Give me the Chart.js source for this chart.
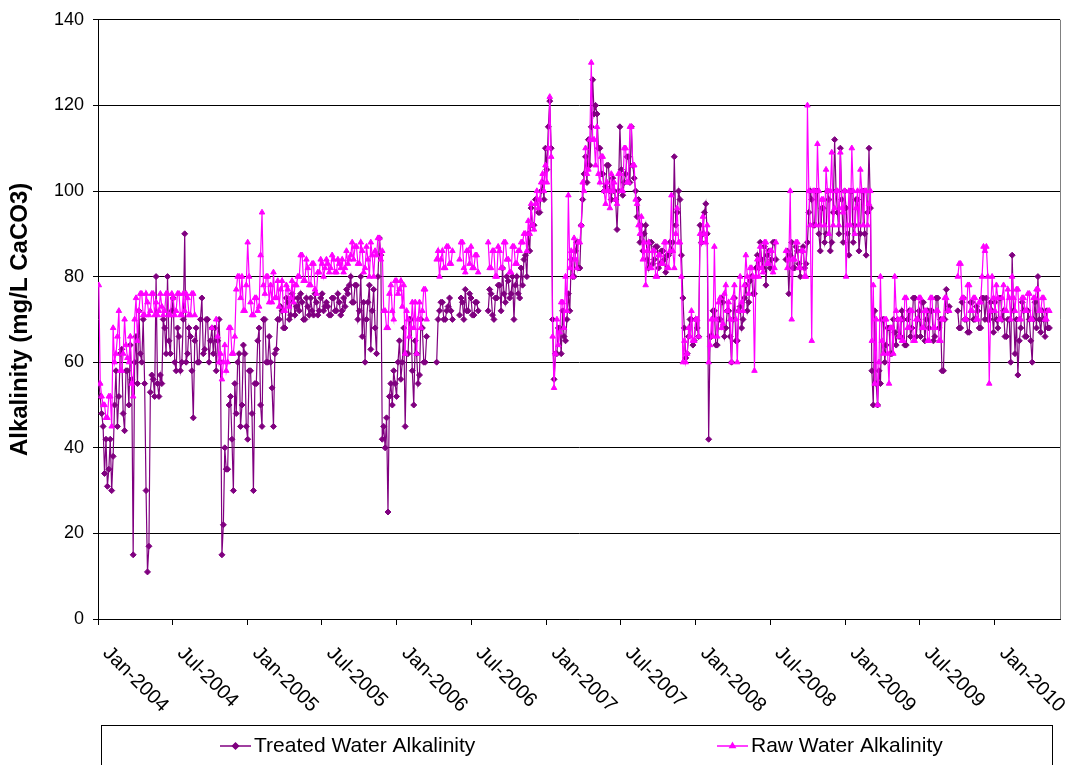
<!DOCTYPE html>
<html>
<head>
<meta charset="utf-8">
<title>Alkalinity</title>
<script src="https://cdn.jsdelivr.net/npm/chart.js@4"></script>
<style>
  html, body { margin: 0; padding: 0; background: #fff; }
  canvas { display: block; }
</style>
</head>
<body>
<canvas id="alkChart" width="1073" height="765"></canvas>
<script>
// twice-weekly samples, days counted from 1 Jan 2004
const firstDay = 2;
const stepDays = 3.5;

// Treated water alkalinity (mg/L CaCO3), null = no sample
const treatedAlk = [
  55, 52, 48, 45, 34, 42, 31, 35, 42, 30, 38, 50, 58, 45, 52, 62, 63, 48, 44, 58,
  58, 50, 64, 56, 15, 60, 66, 55, 72, 62, 60, 70, 55, 30, 11, 17, 53, 57, 56, 52,
  80, 55, 52, 57, 55, 70, 68, 62, 80, 65, 62, 72, 75, 60, 58, 68, 66, 58, 60, 70,
  90, 60, 62, 68, 66, 58, 47, 65, 68, 60, 60, 70, 75, 62, 63, 70, 70, 60, 65, 68,
  62, 68, 58, 65, 70, 60, 15, 22, 40, 35, 35, 50, 52, 42, 30, 55, 48, 60, 62, 45,
  50, 64, 62, 45, 42, 58, 58, 48, 30, 55, 55, 65, 68, 50, 45, 70, 70, 60, 60, 66,
  60, 54, 45, 62, 63, 70, 70, 73, 72, 68, 68, 75, 74, 70, 71, 76, 75, 71, 73, 75,
  72, 76, 74, 70, 70, 75, 73, 71, 75, 72, 71, 76, 74, 71, 72, 75, 76, 72, 73, 74,
  73, 71, 71, 75, 75, 72, 72, 76, 74, 71, 72, 75, 73, 77, 76, 78, 80, 74, 74, 78,
  78, 70, 72, 80, 66, 74, 60, 70, 74, 78, 63, 72, 77, 68, 62, 80, 89, 85, 42, 45,
  40, 47, 25, 52, 55, 50, 58, 55, 52, 60, 65, 56, 60, 68, 45, 62, 62, 70, 70, 58,
  50, 65, 62, 55, 57, 70, 68, 60, 60, 66, null, null, null, null, null, null, 60, 70, 72, 74,
  74, 70, 70, 72, 73, 75, 72, 70, null, null, null, null, 71, 75, 74, 70, 77, 72, 72, 76,
  75, 71, 71, 74, 74, 72, null, null, null, null, null, null, 72, 77, 76, 71, 70, 75, 75, 78,
  78, 72, 82, 76, 74, 80, 79, 75, 76, 80, 70, 78, 80, 76, 75, 82, 78, 84, 85, 80,
  90, 86, 96, 92, 92, 98, 98, 95, 95, 100, 102, 98, 110, 105, 115, 121, 110, 70, 56, 62,
  62, 68, 68, 62, 72, 66, 65, 70, 76, 72, 84, 80, 80, 86, 88, 82, 82, 92, 98, 104,
  108, 102, 112, 106, 115, 126, 118, 120, 118, 110, 110, 104, 104, 100, 101, 106, 106, 100, 98, 103,
  100, 98, 91, 100, 115, 105, 99, 102, 104, 108, 108, 102, 115, 106, 103, 100, 94, 98, 88, 92,
  86, 90, 92, 84, 82, 88, 88, 83, 84, 87, 87, 82, 83, 86, 86, 84, 81, 85, 85, 88,
  86, 88, 108, 92, 95, 100, 98, 85, 75, 68, 61, 62, 66, 70, 70, 64, 65, 70, 68, 66,
  92, 88, 90, 95, 97, 90, 42, 66, 66, 72, 72, 64, 64, 70, 70, 75, 74, 66, 68, 72,
  72, 66, 60, 70, 75, 65, 65, 72, 73, 68, 70, 75, 78, 72, 74, 79, 80, 76, 76, 82,
  85, 82, 88, 84, 82, 87, 78, 85, 86, 82, 84, 88, 88, 84, null, null, null, null, null, null,
  84, 86, 76, 85, 88, 82, 82, 87, 86, 83, 80, 86, 87, 82, 83, 88, 95, 100, 98, 92,
  92, 100, 100, 90, 86, 96, 96, 88, 90, 100, 98, 86, 88, 95, 112, 100, 95, 90, 110, 98,
  88, 100, 96, 90, 85, 100, 100, 88, 92, 98, 98, 86, 90, 100, 100, 90, 85, 95, 110, 96,
  58, 50, 72, 55, 50, 58, 55, 70, 70, 60, 64, 68, 68, 62, 62, 70, 67, 64, 70, 66,
  66, 72, 70, 64, 64, 70, 72, 66, 68, 75, 75, 66, 70, 72, 66, 74, 74, 65, 70, 72,
  68, 72, 72, 65, 66, 75, 75, 68, 70, 58, 58, 70, 77, 72, 73, null, null, null, null, null,
  72, 68, 68, 74, 75, 70, 70, 67, 67, 74, 74, 70, 70, 73, 72, 68, 68, 75, 75, 70,
  75, 70, 70, 74, 72, 67, 74, 70, 68, 75, 75, 70, 72, 66, 66, 70, 70, 60, 85, 72,
  62, 70, 57, 65, 68, 74, 72, 66, 66, 72, 70, 65, 60, 70, 74, 68, 80, 70, 67, 72,
  70, 66, 72, 68, 68
];

// Raw water alkalinity (mg/L CaCO3)
const rawAlk = [
  78, 55, 52, 50, 50, 47, 47, 52, 52, 45, 68, 60, 62, 66, 72, 58, 58, 62, 70, 64,
  61, 60, 66, 55, 52, 70, 75, 65, 72, 76, 76, 71, 71, 76, 74, 71, 72, 76, 76, 71,
  74, 71, 72, 76, 73, 71, 72, 76, 76, 71, 71, 76, 75, 71, 72, 76, 76, 71, 71, 76,
  72, 76, 75, 71, 71, 76, 76, 71, null, null, null, null, null, null, null, null, null, null, null, 68,
  null, null, 70, 66, 60, 62, 56, 60, 64, 58, 60, 68, 68, 62, 62, 66, 77, 80, 80, 75,
  80, 72, 72, 78, 88, 80, 74, 71, 71, 75, 75, 72, 73, 85, 95, 78, 76, 80, 80, 74,
  78, 74, 81, 75, 75, 79, 73, 77, 79, 72, 72, 78, 77, 73, 75, 79, 74, 78, 78, 80,
  80, 85, 85, 79, 79, 84, 82, 78, 78, 83, 83, 77, 76, 81, 81, 84, 83, 80, 82, 84,
  83, 81, 82, 85, 84, 81, 81, 84, 83, 82, 84, 81, 82, 86, 83, 84, 85, 88, 84, 87,
  87, 83, 83, 88, 86, 81, 82, 87, 84, 80, 88, 85, 80, 86, 85, 89, 89, 84, 86, 72,
  72, 68, 68, 76, 78, 72, 70, 79, 79, 76, 77, 79, 73, 78, 62, 72, 70, 66, 68, 74,
  68, 74, 62, 70, 74, 68, 72, 77, 77, 70, null, null, null, null, null, null, 84, 86, 80, 84,
  86, 82, 82, 87, 87, 83, 83, 86, null, null, null, null, 84, 88, 88, 82, 81, 86, 86, 83,
  87, 82, 82, 85, 85, 81, null, null, null, null, null, null, 88, 82, 82, 86, 86, 80, 80, 87,
  86, 82, 82, 88, 88, 84, 84, 81, 81, 87, 87, 83, 83, 86, 86, 88, 88, 90, 90, 86,
  93, 90, 97, 92, 91, 97, 100, 96, 98, 102, 104, 100, 106, 102, 110, 122, 108, 66, 54, 62,
  70, 64, 67, 74, 74, 68, 80, 72, 99, 82, 86, 80, 89, 84, 82, 88, 88, 92, 102, 100,
  110, 104, 105, 112, 130, 112, 112, 106, 115, 104, 102, 108, 108, 100, 97, 102, 100, 96, 104, 100,
  102, 98, 97, 104, 104, 100, 100, 110, 110, 102, 102, 115, 115, 106, 106, 98, 97, 92, 90, 94,
  84, 88, 78, 86, 88, 82, 82, 86, 86, 80, 80, 85, 85, 83, 83, 88, 88, 82, 82, 86,
  99, 86, 82, 90, 96, 88, 88, 80, 60, 65, 60, 62, 68, 66, 72, 65, 65, 70, 70, 66,
  90, 88, 94, 90, 88, 92, 60, 64, 70, 66, 87, 70, 66, 74, 75, 68, 69, 76, 78, 72,
  74, 70, 60, 75, 78, 70, 60, 72, 80, 74, 72, 78, 85, 80, 76, 82, 82, 80, 58, 80,
  84, 80, 87, 82, 81, 88, 88, 83, 83, 86, 86, 81, 82, 88, null, null, null, null, null, null,
  86, 82, 84, 100, 70, 84, 84, 88, 88, 82, 82, 86, 86, 80, 80, 120, 100, 92, 65, 100,
  100, 92, 111, 100, 92, 98, 98, 92, 105, 100, 90, 100, 109, 92, 96, 100, 100, 92, 109, 96,
  95, 100, 80, 92, 100, 92, 110, 100, 90, 96, 100, 92, 105, 100, 92, 100, 100, 92, 97, 100,
  65, 78, 55, 70, 50, 60, 80, 65, 62, 70, 70, 62, 55, 68, 68, 62, 80, 72, 70, 66,
  70, 65, 65, 75, 75, 68, 68, 72, 72, 65, 65, 70, 70, 75, 75, 68, 68, 72, 72, 65,
  65, 75, 75, 68, 68, 72, 72, 65, 65, 70, 70, 75, 75, 72, 72, null, null, null, null, null,
  80, 83, 83, 75, 75, 70, 70, 78, 78, 72, 72, 75, 75, 70, 70, 74, 74, 80, 87, 86,
  87, 80, 55, 72, 80, 75, 72, 78, 75, 70, 70, 75, 78, 72, 72, 77, 75, 70, 80, 75,
  72, 77, 77, 70, 70, 75, 75, 72, 72, 76, 76, 70, 70, 75, 75, 77, 77, 72, 72, 75,
  75, 70, 70, 72, 72
];

// date axis: tick every six months
const tickLabels = ['Jan-2004', 'Jul-2004', 'Jan-2005', 'Jul-2005', 'Jan-2006', 'Jul-2006',
  'Jan-2007', 'Jul-2007', 'Jan-2008', 'Jul-2008', 'Jan-2009', 'Jul-2009', 'Jan-2010'];
const tickDays = [0, 182, 366, 547, 731, 912, 1096, 1277, 1461, 1643, 1827, 2008, 2192];
const lastDay = 2352;

const seriesNames = ['Treated Water Alkalinity', 'Raw Water Alkalinity'];
const seriesColors = ['#800080', '#ff00ff'];

const FONT = 'Arial, "Liberation Sans", sans-serif';

function toPoints(values) {
  return values.map((v, i) => ({ x: firstDay + i * stepDays, y: v }));
}

// rotated date labels, right frame edge and boxed legend
const extras = {
  id: 'extras',
  afterDraw(chart) {
    const ctx = chart.ctx;
    const area = chart.chartArea;
    const xs = chart.scales.x;
    ctx.save();

    ctx.strokeStyle = '#808080';
    ctx.lineWidth = 1;
    ctx.beginPath();
    ctx.moveTo(Math.round(area.right) + 0.5, area.top);
    ctx.lineTo(Math.round(area.right) + 0.5, area.bottom);
    ctx.stroke();

    ctx.fillStyle = '#000';
    ctx.font = '20px ' + FONT;
    ctx.textAlign = 'left';
    ctx.textBaseline = 'middle';
    tickDays.forEach((d, i) => {
      const px = xs.getPixelForValue(d);
      ctx.save();
      ctx.translate(px + 8, area.bottom + 31);
      ctx.rotate(Math.PI / 4);
      ctx.fillText(tickLabels[i], 0, 0);
      ctx.restore();
    });

    // legend box
    ctx.strokeStyle = '#000';
    ctx.strokeRect(101.5, 725.5, 951, 60);
    const ly = 746;
    const items = [
      { x: 220, style: 'rectRot' },
      { x: 717, style: 'triangle' }
    ];
    items.forEach((it, i) => {
      ctx.strokeStyle = seriesColors[i];
      ctx.lineWidth = 1.5;
      ctx.beginPath();
      ctx.moveTo(it.x, ly);
      ctx.lineTo(it.x + 31, ly);
      ctx.stroke();
      Chart.helpers.drawPoint(ctx, { pointStyle: it.style, radius: 3, borderWidth: 1 }, it.x + 15.5, ly);
      ctx.fillStyle = seriesColors[i];
      ctx.fill();
      ctx.fillStyle = '#000';
      ctx.font = '21px ' + FONT;
      ctx.fillText(seriesNames[i], it.x + 34, ly);
    });
    ctx.restore();
  }
};

const ctx = document.getElementById('alkChart').getContext('2d');

new Chart(ctx, {
  type: 'line',
  data: {
    datasets: [
      {
        label: seriesNames[0],
        data: toPoints(treatedAlk),
        borderColor: seriesColors[0],
        backgroundColor: seriesColors[0],
        borderWidth: 1.2,
        pointStyle: 'rectRot',
        pointRadius: 3,
        pointBorderWidth: 1,
        spanGaps: false,
        order: 1
      },
      {
        label: seriesNames[1],
        data: toPoints(rawAlk),
        borderColor: seriesColors[1],
        backgroundColor: seriesColors[1],
        borderWidth: 1.2,
        pointStyle: 'triangle',
        pointRadius: 3.2,
        pointBorderWidth: 1,
        spanGaps: false,
        order: 0
      }
    ]
  },
  options: {
    responsive: false,
    animation: false,
    layout: { padding: { top: 18, right: 13, left: 0, bottom: 0 } },
    plugins: {
      legend: { display: false },
      tooltip: { enabled: false }
    },
    scales: {
      x: {
        type: 'linear',
        min: 0,
        max: lastDay,
        afterBuildTicks: (scale) => {
          scale.ticks = tickDays.map(v => ({ value: v }));
        },
        afterFit: (scale) => { scale.height = 146; },
        ticks: { display: false },
        grid: { drawOnChartArea: false, drawTicks: true, tickLength: 6, color: '#000' },
        border: { color: '#000', width: 1 }
      },
      y: {
        min: 0,
        max: 140,
        afterFit: (scale) => { scale.width = 98; },
        ticks: {
          stepSize: 20,
          color: '#000',
          padding: 9,
          font: { family: FONT, size: 18 }
        },
        grid: { color: '#000', tickLength: 5 },
        border: { color: '#000', width: 1 },
        title: {
          display: true,
          text: 'Alkalinity (mg/L CaCO3)',
          color: '#000',
          padding: { top: 6, bottom: 0 },
          font: { family: FONT, size: 24, weight: 'bold' }
        }
      }
    }
  },
  plugins: [extras]
});
</script>
</body>
</html>
